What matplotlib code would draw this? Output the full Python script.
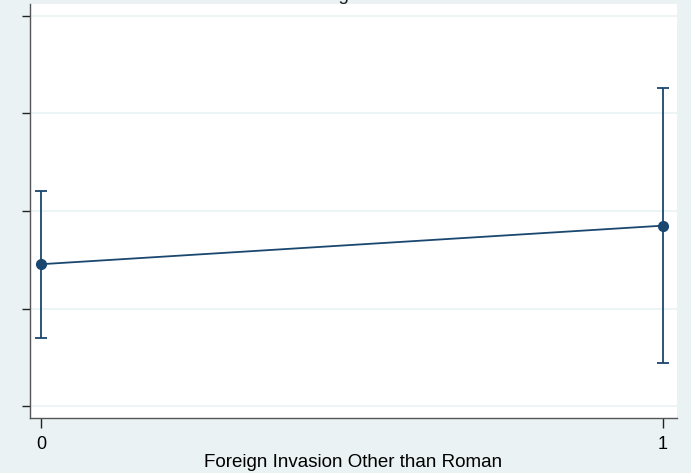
import matplotlib.pyplot as plt

# Predictive margins with confidence intervals
groups = [0, 1]
group_labels = ['0', '1']
margins = [0.491, 0.570]
ci_low = [0.339, 0.288]
ci_high = [0.640, 0.852]
y_ticks = [0.2, 0.4, 0.6, 0.8, 1.0]

navy = '#1a476f'
bg = '#eaf2f3'
grid_col = '#eaf2f3'

plt.rcParams['font.family'] = ['Liberation Sans', 'DejaVu Sans']

fig = plt.figure(figsize=(6.91, 4.73), dpi=100, facecolor=bg)
# axes placed in pixel fractions of the 691x473 canvas
ax = fig.add_axes([30 / 691, 1 - 418 / 473, 647 / 691, 414 / 473])
ax.set_facecolor('white')

# Error bars and the connecting line
err_low = [m - lo for m, lo in zip(margins, ci_low)]
err_high = [hi - m for m, hi in zip(margins, ci_high)]
ax.errorbar(groups, margins, yerr=[err_low, err_high], color=navy,
            linewidth=1.3, elinewidth=1.3, capsize=4.5, capthick=1.3,
            marker='o', markersize=7, markerfacecolor=navy,
            markeredgecolor=navy, zorder=3)

ax.set_xlim(-0.0177, 1.0225)
ax.set_ylim(0.176, 1.024)
ax.set_xticks(groups)
ax.set_xticklabels(group_labels)
ax.set_yticks(y_ticks)
ax.set_yticklabels([])
ax.grid(axis='y', color=grid_col, linewidth=1.2)
ax.set_axisbelow(True)

for side in ['top', 'right']:
    ax.spines[side].set_visible(False)
for side in ['left', 'bottom']:
    ax.spines[side].set_color('#555555')
    ax.spines[side].set_linewidth(1.0)

ax.tick_params(axis='y', length=6, width=1, color='#222222')
ax.tick_params(axis='x', length=7, width=1, color='#222222',
               labelsize=13, pad=6)
ax.set_xlabel('Foreign Invasion Other than Roman', fontsize=13.5, labelpad=1)

# Title sits mostly above the visible canvas in the original
fig.text((30 + 677) / 2 / 691, 1.0, 'Predictive Margins with 95% CIs',
         ha='center', va='baseline', fontsize=13.5, color='#1e1e1e')

fig.savefig('out.png', dpi=100, facecolor=bg)
